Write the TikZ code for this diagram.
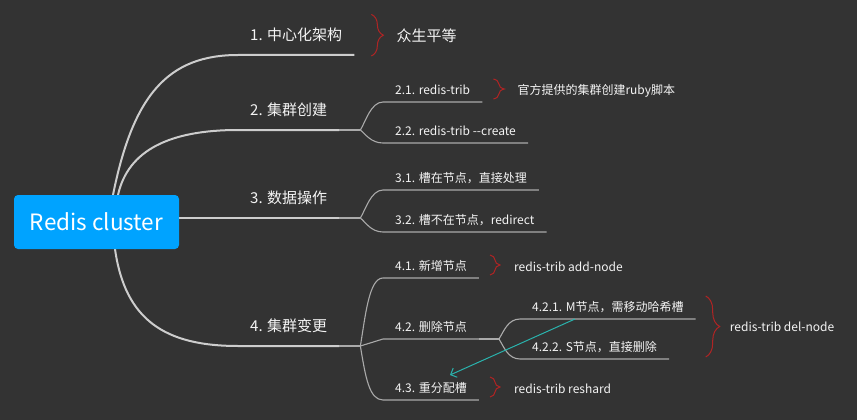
\documentclass[tikz,border=0pt]{standalone}
\usepackage{fontspec}
\setmainfont{Noto Sans CJK SC}
\usepackage{xcolor}
\usepackage{tikz}
\usetikzlibrary{positioning, calc, arrows.meta, decorations.pathreplacing}

\definecolor{bgdark}{HTML}{333333}
\definecolor{rootblue}{HTML}{00A3FF}
\definecolor{mainline}{HTML}{CDCDCD}
\definecolor{subline}{HTML}{AAAAAA}
\definecolor{bracered}{HTML}{B02424}
\definecolor{tealarrow}{HTML}{2AB3AD}
\definecolor{textwhite}{HTML}{F4F4F4}

\begin{document}
\begin{tikzpicture}[x=1pt, y=-1pt,
  root/.style={fill=rootblue, rounded corners=4pt, minimum width=165pt, minimum height=54pt,
    text=white, font=\fontsize{22.5}{26}\selectfont},
  topic/.style={anchor=south west, inner xsep=12pt, inner ysep=11.6pt, text height=12pt,
    text depth=3pt, text=textwhite, font=\fontsize{15}{18}\selectfont},
  subtopic/.style={topic, inner ysep=5.3pt, text height=9.6pt, text depth=2.4pt,
    font=\fontsize{12}{14}\selectfont},
  note/.style={anchor=west, inner sep=0pt, text=textwhite, font=\fontsize{12}{14}\selectfont},
  mainbranch/.style={mainline, line width=2pt},
  subbranch/.style={subline, line width=1.1pt},
  notebrace/.style={bracered, line width=1pt, decorate, decoration={brace, amplitude=#1}}
]
  % Background
  \fill[bgdark, use as bounding box] (0,0) rectangle (857,420);

  % Main topics
  \node[topic] (t1) at (238,55) {1. 中心化架构};
  \node[topic] (t2) at (238,130) {2. 集群创建};
  \node[topic] (t3) at (238,218) {3. 数据操作};
  \node[topic] (t4) at (238,346) {4. 集群变更};

  % Branch points
  \coordinate (b2) at ($(t2.south east)+(21,0)$);
  \coordinate (b3) at ($(t3.south east)+(21,0)$);
  \coordinate (b4) at ($(t4.south east)+(21,0)$);

  % Sub topics
  \node[subtopic] (s21) at (383,102) {2.1. redis-trib};
  \node[subtopic] (s22) at (383,143) {2.2. redis-trib -{}-create};
  \node[subtopic] (s31) at (383,190) {3.1. 槽在节点，直接处理};
  \node[subtopic] (s32) at (383,232) {3.2. 槽不在节点，redirect};
  \node[subtopic] (s41) at (383,278) {4.1. 新增节点};
  \node[subtopic] (s42) at (383,339) {4.2. 删除节点};
  \node[subtopic] (s43) at (383,400) {4.3. 重分配槽};
  \coordinate (b42) at ($(s42.south east)+(20,0)$);
  \node[subtopic] (s421) at (520,319) {4.2.1. M节点，需移动哈希槽};
  \node[subtopic] (s422) at (520,359) {4.2.2. S节点，直接删除};

  % Root and its branches
  \draw[mainbranch] (113,195) .. controls (133,95) and (168,55) .. (t1.south west) -- (t1.south east);
  \draw[mainbranch] (118,195) .. controls (128,150) and (170,130) .. (t2.south west) -- (t2.south east);
  \draw[mainbranch] (179,218) -- (t3.south west) -- (t3.south east);
  \draw[mainbranch] (115,249) .. controls (125,320) and (165,346) .. (t4.south west) -- (t4.south east);
  \node[root] (root) at (96.5,222) {Redis cluster};

  % Stubs to branch points
  \draw[subbranch] (t2.south east) -- (b2);
  \draw[subbranch] (t3.south east) -- (b3);
  \draw[subbranch] (t4.south east) -- (b4);
  \draw[subbranch] (s42.south east) -- (b42);

  % Sub branches
  \draw[subbranch] (b2) .. controls +(5,-8) and +(-12,0) .. (s21.south west) -- (s21.south east);
  \draw[subbranch] (b2) .. controls +(5,4) and +(-12,0) .. (s22.south west) -- (s22.south east);
  \draw[subbranch] (b3) .. controls +(5,-8) and +(-12,0) .. (s31.south west) -- (s31.south east);
  \draw[subbranch] (b3) .. controls +(5,4) and +(-12,0) .. (s32.south west) -- (s32.south east);
  \draw[subbranch] (b4) .. controls +(5,-30) and +(-14,0) .. (s41.south west) -- (s41.south east);
  \draw[subbranch] (b4) -- (s42.south west) -- (s42.south east);
  \draw[subbranch] (b4) .. controls +(5,30) and +(-14,0) .. (s43.south west) -- (s43.south east);
  \draw[subbranch] (b42) .. controls +(5,-8) and +(-12,0) .. (s421.south west) -- (s421.south east);
  \draw[subbranch] (b42) .. controls +(5,8) and +(-12,0) .. (s422.south west) -- (s422.south east);

  % Braces and notes
  \draw[notebrace=12pt] ($(t1.north east)+(17,-2)$) -- ($(t1.south east)+(17,1)$);
  \node[note, font=\fontsize{15}{18}\selectfont] (n1) at ($(t1.east)+(42,0)$) {众生平等};
  \draw[notebrace=11pt] ($(s21.north east)+(11,0)$) -- ($(s21.south east)+(11,-3)$);
  \node[note] (n21) at ($(s21.east)+(35,0)$) {官方提供的集群创建ruby脚本};
  \draw[notebrace=10pt] ($(s41.north east)+(11,0)$) -- ($(s41.south east)+(11,-3)$);
  \node[note] (n41) at ($(s41.east)+(35,0)$) {redis-trib add-node};
  \draw[notebrace=14pt] ($(s421.north east)+(10,0)$) -- ($(s421.east |- s422.south)+(10,-2)$);
  \node[note] (n42) at ($(s421.south east)+(34,8)$) {redis-trib del-node};
  \draw[notebrace=10pt] ($(s43.north east)+(11,0)$) -- ($(s43.south east)+(11,-3)$);
  \node[note] (n43) at ($(s43.east)+(35,0)$) {redis-trib reshard};

  % Slot moving hint
  \coordinate (mv) at ($(s421.south west)+(55,0)$);
  \coordinate (rs) at ($(s43.north west)+(67,-2)$);
  \draw[tealarrow, line width=1pt, -{Straight Barb[length=5pt, width=10pt]}] (mv) -- (rs);
\end{tikzpicture}
\end{document}
